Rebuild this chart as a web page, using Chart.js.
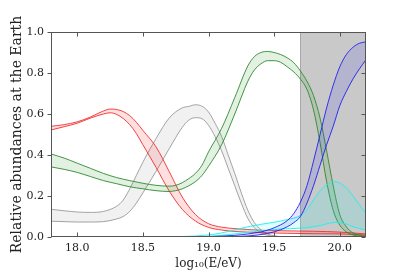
<!DOCTYPE html>
<html><head><meta charset="utf-8">
<script src="https://cdn.jsdelivr.net/npm/chart.js@4.4.0/dist/chart.umd.min.js"></script>
<style>html,body{margin:0;padding:0;background:#fff}#wrap{width:407px;height:271px}</style>
</head><body><div id="wrap"><canvas id="c" width="407" height="271"></canvas></div>
<script>
// ---- data ----
const xTicks = [18.0, 18.5, 19.0, 19.5, 20.0];
const yTicks = [0.0, 0.2, 0.4, 0.6, 0.8, 1.0];
const shadeRange = [19.7, 20.2];

const redE     = [17.8, 17.9, 18.0, 18.1, 18.2, 18.25, 18.3, 18.35, 18.4, 18.45, 18.5, 18.6, 18.7, 18.8, 18.9, 19.0, 19.1, 19.2, 19.4, 19.6, 19.8, 20.0, 20.2];
const redHigh  = [0.54, 0.548, 0.562, 0.585, 0.615, 0.624, 0.622, 0.612, 0.592, 0.56, 0.52, 0.44, 0.32, 0.195, 0.11, 0.065, 0.048, 0.041, 0.033, 0.03, 0.028, 0.024, 0.015];
const redLow   = [0.522, 0.538, 0.555, 0.58, 0.6, 0.606, 0.598, 0.578, 0.548, 0.505, 0.45, 0.34, 0.225, 0.135, 0.078, 0.047, 0.034, 0.027, 0.021, 0.018, 0.016, 0.015, 0.01];

const grayE    = [17.8, 17.9, 18.0, 18.1, 18.2, 18.3, 18.35, 18.4, 18.45, 18.5, 18.6, 18.7, 18.8, 18.85, 18.9, 18.95, 19.0, 19.05, 19.1, 19.15, 19.2, 19.25, 19.3, 19.35, 19.4, 19.45, 19.5, 19.6, 20.2];
const grayHigh = [0.135, 0.128, 0.122, 0.12, 0.125, 0.15, 0.18, 0.235, 0.3, 0.365, 0.48, 0.58, 0.63, 0.637, 0.645, 0.638, 0.61, 0.555, 0.49, 0.4, 0.31, 0.215, 0.13, 0.07, 0.035, 0.015, 0.006, 0, 0];
const grayLow  = [0.077, 0.075, 0.073, 0.073, 0.075, 0.088, 0.1, 0.125, 0.165, 0.215, 0.32, 0.43, 0.535, 0.57, 0.582, 0.577, 0.545, 0.49, 0.42, 0.335, 0.25, 0.165, 0.09, 0.045, 0.02, 0.008, 0.003, 0, 0];

const greenE    = [17.8, 17.9, 18.0, 18.1, 18.2, 18.3, 18.4, 18.5, 18.6, 18.7, 18.75, 18.8, 18.85, 18.9, 18.95, 19.0, 19.1, 19.2, 19.3, 19.35, 19.4, 19.45, 19.5, 19.55, 19.6, 19.65, 19.7, 19.75, 19.8, 19.85, 19.9, 19.95, 20.0, 20.05, 20.1, 20.2];
const greenHigh = [0.405, 0.385, 0.36, 0.335, 0.31, 0.29, 0.275, 0.262, 0.252, 0.248, 0.252, 0.265, 0.285, 0.31, 0.35, 0.415, 0.53, 0.68, 0.835, 0.88, 0.9, 0.905, 0.9, 0.89, 0.874, 0.85, 0.81, 0.76, 0.69, 0.58, 0.42, 0.25, 0.11, 0.05, 0.02, 0.004];
const greenLow  = [0.342, 0.33, 0.315, 0.295, 0.275, 0.26, 0.245, 0.235, 0.226, 0.222, 0.226, 0.235, 0.25, 0.27, 0.3, 0.345, 0.45, 0.6, 0.76, 0.815, 0.845, 0.86, 0.86, 0.852, 0.83, 0.805, 0.77, 0.72, 0.62, 0.46, 0.27, 0.13, 0.058, 0.025, 0.01, 0.002];

const cyanE    = [17.8, 18.6, 18.8, 19.0, 19.1, 19.2, 19.3, 19.4, 19.5, 19.6, 19.7, 19.75, 19.8, 19.85, 19.9, 19.96, 20.05, 20.1, 20.2];
const cyanHigh = [0, 0, 0.002, 0.01, 0.02, 0.035, 0.05, 0.062, 0.072, 0.085, 0.105, 0.135, 0.18, 0.225, 0.255, 0.27, 0.24, 0.2, 0.115];
const cyanLow  = [0, 0, 0, 0.003, 0.008, 0.015, 0.022, 0.03, 0.036, 0.04, 0.043, 0.046, 0.05, 0.056, 0.064, 0.071, 0.063, 0.05, 0.034];

const blueE    = [17.8, 18.8, 19.0, 19.2, 19.3, 19.4, 19.5, 19.6, 19.65, 19.7, 19.75, 19.8, 19.85, 19.9, 19.95, 20.0, 20.05, 20.1, 20.15, 20.2];
const blueHigh = [0, 0, 0.002, 0.008, 0.015, 0.025, 0.045, 0.08, 0.115, 0.17, 0.25, 0.37, 0.5, 0.63, 0.74, 0.83, 0.89, 0.925, 0.945, 0.952];
const blueLow  = [0, 0, 0, 0.002, 0.005, 0.012, 0.025, 0.05, 0.07, 0.1, 0.165, 0.25, 0.35, 0.45, 0.54, 0.64, 0.71, 0.77, 0.82, 0.865];

// ---- build datasets ----
function pts(xs, ys) { return xs.map((x, i) => ({x: x, y: ys[i]})); }
function band(xs, hi, lo, line, fill) {
  const common = {borderColor: line, borderWidth: 0.9, pointRadius: 0, cubicInterpolationMode: 'monotone'};
  return [
    Object.assign({data: pts(xs, hi), fill: '+1', backgroundColor: fill}, common),
    Object.assign({data: pts(xs, lo), fill: false}, common)
  ];
}
const datasets = [].concat(
  band(blueE, blueHigh, blueLow, '#2020ee', 'rgba(0,0,255,0.10)'),
  band(cyanE, cyanHigh, cyanLow, '#20eeee', 'rgba(0,255,255,0.12)'),
  band(greenE, greenHigh, greenLow, '#2e8b2e', 'rgba(0,128,0,0.11)'),
  band(redE, redHigh, redLow, '#f03030', 'rgba(255,0,0,0.12)'),
  band(grayE, grayHigh, grayLow, '#9a9a9a', 'rgba(128,128,128,0.11)')
);

const FONT = "'DejaVu Serif', serif";

const framePlugin = {
  id: 'frame',
  beforeDatasetsDraw(chart) {
    const {ctx, chartArea: a, scales: {x}} = chart;
    const x0 = x.getPixelForValue(shadeRange[0]), x1 = x.getPixelForValue(shadeRange[1]);
    ctx.save();
    ctx.fillStyle = '#c9c9c9';
    ctx.fillRect(x0, a.top, x1 - x0, a.bottom - a.top);
    ctx.strokeStyle = '#a8a8a8';
    ctx.lineWidth = 1;
    ctx.beginPath(); ctx.moveTo(Math.round(x0) + 0.5, a.top); ctx.lineTo(Math.round(x0) + 0.5, a.bottom); ctx.stroke();
    ctx.restore();
  },
  afterDraw(chart) {
    const {ctx, chartArea: a, scales: {x, y}} = chart;
    ctx.save();
    ctx.strokeStyle = '#555555';
    ctx.lineWidth = 1;
    const L = Math.round(a.left) + 0.5, R = Math.round(a.right) - 0.5, T = Math.round(a.top) + 0.5, B = Math.round(a.bottom) - 0.5;
    ctx.strokeRect(L, T, R - L, B - T);
    ctx.beginPath();
    xTicks.forEach(v => {
      const px = Math.round(x.getPixelForValue(v)) + 0.5;
      ctx.moveTo(px, B); ctx.lineTo(px, B - 4);
      ctx.moveTo(px, T); ctx.lineTo(px, T + 4);
    });
    yTicks.forEach(v => {
      const py = Math.round(y.getPixelForValue(v)) + 0.5;
      ctx.moveTo(L, py); ctx.lineTo(L - 4, py);
      ctx.moveTo(R, py); ctx.lineTo(R - 4, py);
    });
    ctx.stroke();
    ctx.restore();
  }
};

new Chart(document.getElementById('c'), {
  type: 'line',
  data: {datasets: datasets},
  plugins: [framePlugin],
  options: {
    responsive: false,
    animation: false,
    events: [],
    layout: {padding: {top: 32, right: 41, left: 0, bottom: 0}},
    plugins: {legend: {display: false}, tooltip: {enabled: false}},
    scales: {
      x: {
        type: 'linear', min: 17.8, max: 20.2,
        afterBuildTicks: s => { s.ticks = xTicks.map(v => ({value: v})); },
        afterFit: s => { s.height = 34; },
        grid: {display: false, drawTicks: false},
        border: {display: false},
        ticks: {font: {family: FONT, size: 11}, color: '#222', padding: 5, maxRotation: 0,
                callback: v => Number(v).toFixed(1)},
        title: {display: true, text: 'log\u2081\u2080(E/eV)', font: {family: FONT, size: 12}, color: '#222', padding: {top: 0, bottom: 0}}
      },
      y: {
        type: 'linear', min: 0, max: 1,
        afterBuildTicks: s => { s.ticks = yTicks.map(v => ({value: v})); },
        afterFit: s => { s.width = 51; },
        grid: {display: false, drawTicks: false},
        border: {display: false},
        ticks: {font: {family: FONT, size: 11}, color: '#222', padding: 7,
                callback: v => Number(v).toFixed(1)},
        title: {display: true, text: 'Relative abundances at the Earth', font: {family: FONT, size: 14}, color: '#222', padding: {top: 9, bottom: 0}}
      }
    }
  }
});
</script></body></html>
